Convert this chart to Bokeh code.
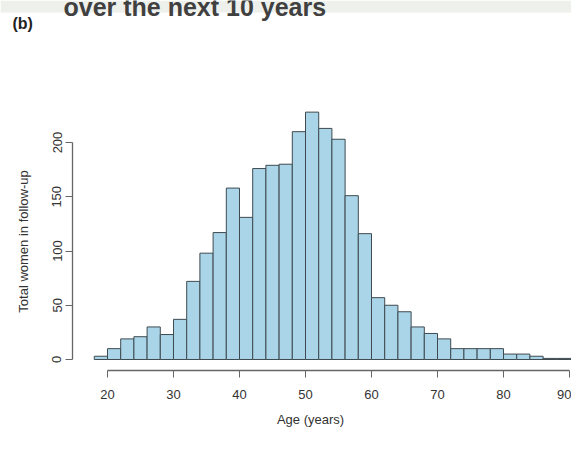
import math
from bokeh.plotting import figure
from bokeh.models import Range1d, Label, FixedTicker, BoxAnnotation
from bokeh.embed import file_html
from bokeh.resources import INLINE

# ---- data ----
bin_starts = [18, 20, 22, 24, 26, 28, 30, 32, 34, 36, 38, 40, 42, 44, 46, 48, 50, 52,
              54, 56, 58, 60, 62, 64, 66, 68, 70, 72, 74, 76, 78, 80, 82, 84, 86, 88, 90]
counts = [3, 10, 19, 21, 30, 23, 37, 72, 98, 117, 158, 131, 176, 179, 180, 210, 228, 213,
          203, 151, 116, 57, 50, 44, 30, 24, 19, 10, 10, 10, 10, 5, 5, 3, 1, 1, 1]
bin_width = 2
x_ticks = [20, 30, 40, 50, 60, 70, 80, 90]
y_ticks = [0, 50, 100, 150, 200]
title_text = "over the next 10 years"
panel_tag = "(b)"
x_label = "Age (years)"
y_label = "Total women in follow-up"

lefts = bin_starts
rights = [b + bin_width for b in bin_starts]

FONT = "Liberation Sans"
W, H = 571, 451

p = figure(width=W, height=H, output_backend="svg", toolbar_location=None,
           x_range=Range1d(3.79, 90.30), y_range=Range1d(-84.8, 330.9),
           min_border=0)
p.outline_line_color = None
p.grid.visible = False
p.background_fill_color = "white"
p.border_fill_color = "white"

# faint band at the very top of the slide
p.add_layout(BoxAnnotation(bottom=319.8, fill_color="#eef0ec", fill_alpha=1.0,
                           line_color=None))

p.quad(left=lefts, right=rights, bottom=0, top=counts,
       fill_color="#aad5e8", line_color="#3e4a50", line_width=1)

# x axis (R style, detached)
xa = p.xaxis[0]
xa.fixed_location = -10.14
xa.ticker = FixedTicker(ticks=x_ticks)
xa.bounds = (20, 90)
xa.axis_line_color = "#666666"
xa.axis_line_width = 1.3
xa.major_tick_line_color = "#666666"
xa.major_tick_in = 0
xa.major_tick_out = 7
xa.minor_tick_line_color = None
xa.major_label_text_font = FONT
xa.major_label_text_font_size = "13px"
xa.major_label_text_color = "#333333"
xa.major_label_standoff = 12

# y axis (R style, detached)
ya = p.yaxis[0]
ya.fixed_location = 14.70
ya.ticker = FixedTicker(ticks=y_ticks)
ya.bounds = (0, 200)
ya.axis_line_color = "#666666"
ya.axis_line_width = 1.3
ya.major_tick_line_color = "#666666"
ya.major_tick_in = 0
ya.major_tick_out = 7
ya.minor_tick_line_color = None
ya.major_label_orientation = "vertical"
ya.major_label_text_font = FONT
ya.major_label_text_font_size = "13px"
ya.major_label_text_color = "#333333"
ya.major_label_standoff = 4

# axis titles, centred like R does on the plot region
p.add_layout(Label(x=310, y=H - 419, x_units="screen", y_units="screen", text=x_label,
                   text_font=FONT, text_font_size="13px", text_color="#333333",
                   text_align="center", text_baseline="middle"))
p.add_layout(Label(x=23, y=H - 241, x_units="screen", y_units="screen", text=y_label,
                   angle=math.pi / 2, text_font=FONT, text_font_size="13px",
                   text_color="#333333", text_align="center", text_baseline="middle"))

# heading texts (screen units, from the frame's bottom-left)
p.add_layout(Label(x=63, y=H - 6, x_units="screen", y_units="screen", text=title_text,
                   text_font=FONT, text_font_size="25px", text_font_style="bold",
                   text_color="#404040", text_baseline="middle"))
p.add_layout(Label(x=12, y=H - 22.5, x_units="screen", y_units="screen", text=panel_tag,
                   text_font=FONT, text_font_size="16px", text_font_style="bold",
                   text_color="#222222", text_baseline="middle"))

open("out.html", "w").write(file_html(p, INLINE))
